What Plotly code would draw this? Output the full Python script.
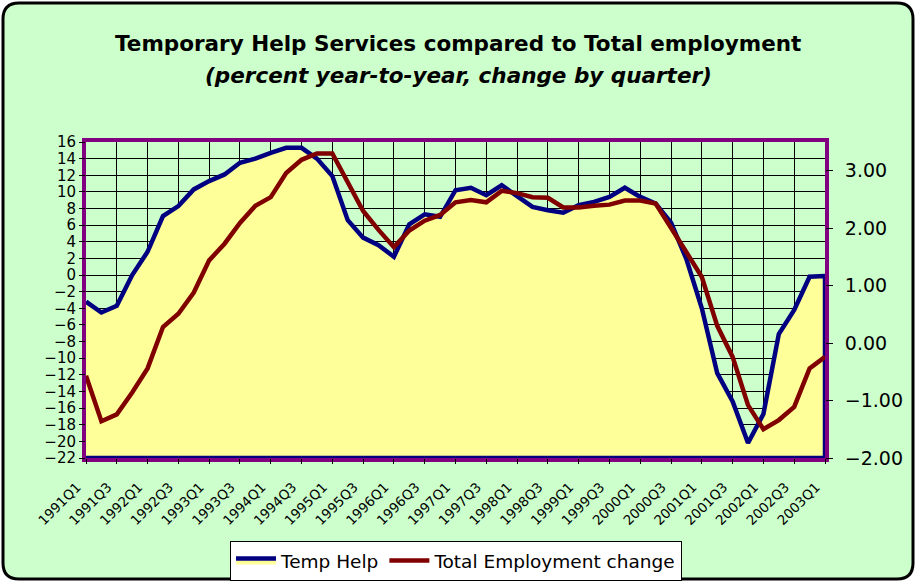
import plotly.graph_objects as go

quarters = [
    "1991Q1", "1991Q2", "1991Q3", "1991Q4",
    "1992Q1", "1992Q2", "1992Q3", "1992Q4",
    "1993Q1", "1993Q2", "1993Q3", "1993Q4",
    "1994Q1", "1994Q2", "1994Q3", "1994Q4",
    "1995Q1", "1995Q2", "1995Q3", "1995Q4",
    "1996Q1", "1996Q2", "1996Q3", "1996Q4",
    "1997Q1", "1997Q2", "1997Q3", "1997Q4",
    "1998Q1", "1998Q2", "1998Q3", "1998Q4",
    "1999Q1", "1999Q2", "1999Q3", "1999Q4",
    "2000Q1", "2000Q2", "2000Q3", "2000Q4",
    "2001Q1", "2001Q2", "2001Q3", "2001Q4",
    "2002Q1", "2002Q2", "2002Q3", "2002Q4",
    "2003Q1",
]

temp_help = [
    -3.2, -4.5, -3.7, 0.0,
    2.8, 7.1, 8.3, 10.3,
    11.3, 12.1, 13.5, 14.0,
    14.7, 15.3, 15.3, 14.0,
    11.9, 6.6, 4.5, 3.6,
    2.2, 6.1, 7.3, 7.0,
    10.2, 10.5, 9.6, 10.8,
    9.5, 8.2, 7.8, 7.5,
    8.4, 8.8, 9.4, 10.5,
    9.4, 8.6, 6.3, 1.9,
    -4.0, -11.8, -15.2, -20.2,
    -16.7, -7.1, -4.2, -0.2,
    -0.1,
]

total_employment = [
    -0.57, -1.36, -1.24, -0.86,
    -0.44, 0.28, 0.51, 0.88,
    1.44, 1.73, 2.09, 2.39,
    2.54, 2.96, 3.19, 3.30,
    3.30, 2.78, 2.30, 1.97,
    1.67, 1.96, 2.13, 2.23,
    2.45, 2.49, 2.45, 2.65,
    2.61, 2.54, 2.53, 2.36,
    2.36, 2.39, 2.41, 2.48,
    2.48, 2.43, 1.99, 1.58,
    1.15, 0.30, -0.24, -1.08,
    -1.50, -1.34, -1.11, -0.44,
    -0.24,
]

x_tick_labels = quarters[::2]
left_range = [-22, 16]
left_ticks = list(range(-22, 17, 2))
right_range = [-2, 3.5]
right_ticks = [-2, -1, 0, 1, 2, 3]

W, H = 916, 582
ML, MR, MT, MB = 86, 91, 142, 124
PW = W - ML - MR
PH = H - MT - MB


def px(x):
    return (x - ML) / PW


def py(y):
    return (H - MB - y) / PH


FONT = "DejaVu Sans"
NAVY = "#000080"
DARKRED = "#800000"
PURPLE = "#800080"
BG = "#CCFFCC"
AREA = "#FFFF99"

fig = go.Figure()

fig.add_trace(go.Scatter(
    x=quarters + [quarters[-1], quarters[0]],
    y=temp_help + [left_range[0], left_range[0]],
    mode="lines",
    fill="toself",
    fillcolor=AREA,
    line=dict(color=NAVY, width=4.5),
    name="Temp Help",
    yaxis="y",
    hoverinfo="skip",
))

fig.add_trace(go.Scatter(
    x=quarters,
    y=total_employment,
    mode="lines",
    line=dict(color=DARKRED, width=4.5),
    name="Total Employment change",
    yaxis="y2",
))

# outer rounded frame
x0, x1 = px(3), px(913)
yt, yb = py(3), py(579)
rx, ry = 16 / PW, 16 / PH
frame_path = (
    f"M {x0+rx},{yt} L {x1-rx},{yt} Q {x1},{yt} {x1},{yt-ry} "
    f"L {x1},{yb+ry} Q {x1},{yb} {x1-rx},{yb} "
    f"L {x0+rx},{yb} Q {x0},{yb} {x0},{yb+ry} "
    f"L {x0},{yt-ry} Q {x0},{yt} {x0+rx},{yt} Z"
)

shapes = [
    dict(type="path", path=frame_path, xref="paper", yref="paper",
         fillcolor=BG, line=dict(color="black", width=3), layer="below"),
    dict(type="rect", xref="paper", yref="paper",
         x0=-2 / PW, x1=1 + 2 / PW, y0=-2 / PH, y1=1 + 2 / PH,
         line=dict(color=PURPLE, width=4), fillcolor="rgba(0,0,0,0)",
         layer="between"),
]

annotations = [
    dict(text="<b>Temporary Help Services compared to Total employment</b>",
         xref="paper", yref="paper", x=px(458), y=py(43),
         xanchor="center", yanchor="middle", showarrow=False,
         font=dict(family=FONT, size=21.5, color="black")),
    dict(text="<b><i>(percent year-to-year, change by quarter)</i></b>",
         xref="paper", yref="paper", x=px(458), y=py(75),
         xanchor="center", yanchor="middle", showarrow=False,
         font=dict(family=FONT, size=21.5, color="black")),
]

fig.update_layout(
    template="none",
    width=W, height=H,
    margin=dict(l=ML, r=MR, t=MT, b=MB, pad=0, autoexpand=False),
    paper_bgcolor="white",
    plot_bgcolor=BG,
    font=dict(family=FONT, color="black"),
    shapes=shapes,
    annotations=annotations,
    showlegend=True,
    legend=dict(
        orientation="h",
        xref="container", yref="container",
        x=456 / W, xanchor="center",
        y=1 - 541 / H, yanchor="top",
        bgcolor="white", bordercolor="black", borderwidth=1,
        font=dict(family=FONT, size=18.5, color="black"),
        itemwidth=40,
    ),
    xaxis=dict(
        type="category",
        range=[0, len(quarters) - 1],
        tickmode="array", tickvals=x_tick_labels, ticktext=x_tick_labels,
        tickangle=-45,
        ticks="outside", ticklen=5, tickcolor="black",
        ticklabelstandoff=10, ticklabelshift=-9,
        showgrid=True, gridcolor="black", gridwidth=1,
        showline=False, zeroline=False, automargin=False,
        tickfont=dict(family=FONT, size=13.5, color="black"),
    ),
    yaxis=dict(
        range=left_range,
        tickmode="array", tickvals=left_ticks,
        ticks="outside", ticklen=6, tickcolor="black",
        showgrid=True, gridcolor="black", gridwidth=1,
        showline=False, zeroline=False, automargin=False,
        tickfont=dict(family=FONT, size=15, color="black"),
    ),
    yaxis2=dict(
        range=right_range, overlaying="y", side="right",
        tickmode="array", tickvals=right_ticks, tickformat=".2f",
        ticks="outside", ticklen=7, tickcolor="black",
        showgrid=False, showline=False, zeroline=False, automargin=False,
        ticklabelstandoff=8,
        tickfont=dict(family=FONT, size=19, color="black"),
    ),
)

fig.write_html(
    "out.html",
    config={"displayModeBar": False},
    post_script="document.body.style.margin='0';document.body.style.overflow='hidden';",
)
